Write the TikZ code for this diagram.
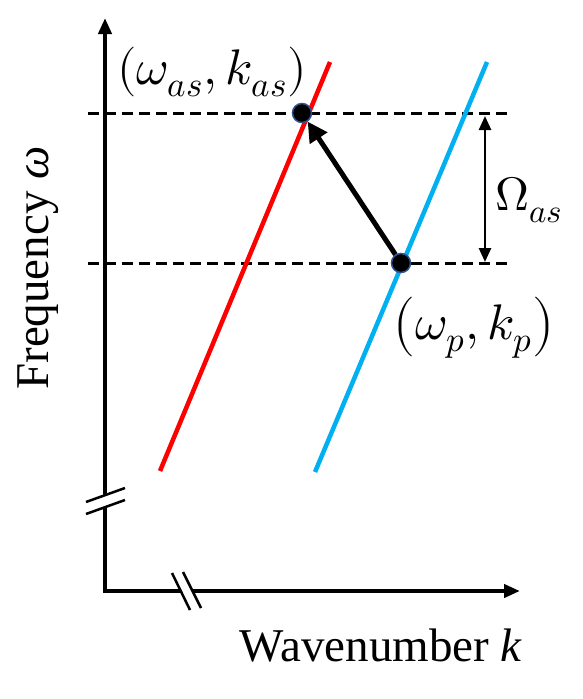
\documentclass[tikz,border=0pt]{standalone}
\usepackage{unicode-math}
\setmainfont{Liberation Serif}
\setmathfont{Latin Modern Math}
\usetikzlibrary{arrows.meta}
\definecolor{skyb}{RGB}{0,176,240}
\definecolor{dotedge}{RGB}{47,82,143}
\tikzset{
  axis/.style={line width=4pt,-{Triangle[length=16pt,width=13pt]}},
  brk/.style={line width=2.5pt},
  dline/.style={line width=3pt,dash pattern=on 11pt off 6pt},
  dot/.style={circle,fill=black,draw=dotedge,line width=1.5pt,minimum size=19pt,inner sep=0pt},
  big/.style={font=\fontsize{50}{56}\selectfont},
  mid/.style={font=\fontsize{47}{52}\selectfont},
  txt/.style={font=\fontsize{47}{52}\selectfont},
}
\begin{document}
\begin{tikzpicture}[x=1pt,y=-1pt]
\useasboundingbox (0,0) rectangle (582,699);
% axes
\coordinate (o) at (105,591);
\coordinate (ytop) at (105,18);
\coordinate (xend) at (520,591);
\draw[line width=4pt,line cap=rect] (105,495) -- (o) -- (180,591);
\draw[axis] (105,505) -- (ytop);
\draw[axis] (190,591) -- (xend);
% breaks
\fill[white] (86,501) -- (125,487) -- (125,500) -- (86,514) -- cycle;
\fill[white] (173,572) -- (183,572) -- (200,609) -- (190,609) -- cycle;
\draw[brk] (86,502) -- (125,488);
\draw[brk] (86,514) -- (125,500);
\draw[brk] (172,573) -- (190,610);
\draw[brk] (183,572) -- (201,608);
% dashed lines
\coordinate (d1a) at (88,113);
\coordinate (d1b) at (513,113);
\coordinate (d2a) at (88,263);
\coordinate (d2b) at (513,263);
\draw[dline] (d1a) -- (d1b);
\draw[dline] (d2a) -- (d2b);
% dispersion lines
\coordinate (r1) at (160,471);
\coordinate (r2) at (330,62);
\coordinate (b1) at (315,472);
\coordinate (b2) at (487,62);
\draw[red,line width=4.5pt] (r1) -- (r2);
\draw[skyb,line width=4.5pt] (b1) -- (b2);
% points
\node[dot] (as) at (302,113) {};
\node[dot] (p) at (401,263) {};
\draw[line width=5pt,-{Triangle[length=20pt,width=20pt]}] (p) -- (as);
% Omega arrow
\coordinate (oa) at (485,116);
\coordinate (ob) at (485,262);
\draw[line width=2.5pt,{Triangle[length=14pt,width=12pt]}-{Triangle[length=14pt,width=12pt]}] (oa) -- (ob);
% labels
\node[big] (las) at (212,72) {$(\omega_{as},k_{as})$};
\node[big] (lp) at (474,328) {$\left(\omega_{p},k_{p}\right)$};
\node[mid] (lom) at (529,200) {$\Omega_{as}$};
\node[txt,rotate=90] (fy) at (38,268) {Frequency \textit{ω}};
\node[txt] (wx) at (381,646) {Wavenumber \textit{k}};
\end{tikzpicture}
\end{document}
